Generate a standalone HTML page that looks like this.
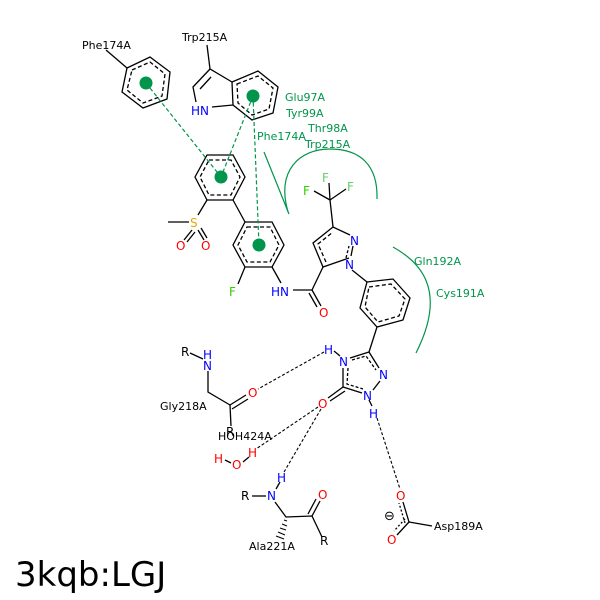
<!DOCTYPE html>
<html><head><meta charset="utf-8"><style>
html,body{margin:0;padding:0;background:#fff;}
svg{display:block;font-family:"DejaVu Sans","Liberation Sans",sans-serif;}
</style></head><body>
<svg width="600" height="600" viewBox="0 0 600 600" xmlns="http://www.w3.org/2000/svg">
<rect width="600" height="600" fill="#fff"/>
<g stroke="#000" stroke-width="1.3" fill="none">
<polygon points="127,68 150,57 170,72 167,99 143,108 122,92"/>
<polygon points="132,70 150,62 165,74 162,96 143,103 127,90" stroke-dasharray="4,2.5"/>
<line x1="106" y1="50" x2="127" y2="68"/>
<line x1="210" y1="69" x2="207" y2="45"/>
<polyline points="232,82 210,69 193,87 196,102"/>
<line x1="211" y1="77" x2="200" y2="89"/>
<line x1="212" y1="107" x2="233" y2="105"/>
<polygon points="232,82 258,71 278,87 273,113 252,120 233,105"/>
<polygon points="237,84 258,76 273,88 269,109 252,115 238,103" stroke-dasharray="4,2.5"/>
<polygon points="207,155 233,155 245,177 233,200 207,200 195,177"/>
<polygon points="209,160 231,160 240,177 231,195 209,195 200,177" stroke-dasharray="4,2.5"/>
<polygon points="245,222 272,222 284,245 272,267 245,267 233,245"/>
<polygon points="247,227 270,227 279,245 270,262 247,262 238,245" stroke-dasharray="4,2.5"/>
<line x1="233" y1="200" x2="245" y2="222"/>
<line x1="207" y1="200" x2="198" y2="215"/>
<line x1="168" y1="222" x2="189" y2="222"/>
<line x1="192" y1="230" x2="184" y2="240"/><line x1="195" y1="232" x2="187" y2="242"/>
<line x1="198" y1="230" x2="204" y2="240"/><line x1="201" y1="228" x2="207" y2="238"/>
<line x1="245" y1="267" x2="238" y2="284"/>
<line x1="272" y1="267" x2="281" y2="283"/>
<line x1="293" y1="290" x2="312" y2="290"/>
<line x1="312" y1="290" x2="321" y2="306"/><line x1="309" y1="293" x2="317" y2="307"/>
<line x1="312" y1="290" x2="323" y2="267"/>
<polyline points="349,258 323,267 313,243 333,227 350,235"/>
<polyline points="326,262 318,244 333,232" stroke-dasharray="4,2.5"/>
<line x1="346" y1="258" x2="349" y2="246" stroke-dasharray="3,2"/>
<line x1="353" y1="246" x2="351" y2="256"/>
<line x1="333" y1="227" x2="330" y2="200"/>
<line x1="330" y1="200" x2="314" y2="191"/>
<line x1="330" y1="200" x2="329" y2="183"/>
<line x1="330" y1="200" x2="346" y2="189"/>
<line x1="352" y1="270" x2="367" y2="282"/>
<polygon points="367,282 393,279 410,298 403,320 377,327 360,308"/>
<polygon points="369,287 391,284 405,299 399,316 378,322 365,307" stroke-dasharray="4,2.5"/>
<line x1="377" y1="327" x2="369" y2="352"/>
<line x1="369" y1="352" x2="350" y2="358"/>
<line x1="369" y1="352" x2="379" y2="368"/>
<line x1="343" y1="368" x2="343" y2="387"/>
<line x1="343" y1="387" x2="362" y2="393"/>
<line x1="380" y1="381" x2="373" y2="390"/>
<polyline points="348,368 347,384 363,389" stroke-dasharray="3,2"/>
<polyline points="352,360 366,356 376,370" stroke-dasharray="3,2"/>
<line x1="343" y1="387" x2="328" y2="398"/><line x1="345" y1="391" x2="330" y2="401"/>
<line x1="369" y1="400" x2="372" y2="406"/>
<line x1="334" y1="351" x2="340" y2="356"/>
<line x1="190" y1="353" x2="203" y2="359"/>
<polyline points="208,371 208,392 230,405"/>
<line x1="230" y1="405" x2="246" y2="395"/><line x1="232" y1="409" x2="248" y2="399"/>
<line x1="230" y1="405" x2="231" y2="426"/>
<line x1="225" y1="460" x2="231" y2="463"/><line x1="243" y1="462" x2="249" y2="457"/>
<line x1="252" y1="496" x2="266" y2="496"/>
<line x1="280" y1="482" x2="276" y2="489"/>
<polyline points="275,502 286,517 312,516 322,537"/>
<line x1="312" y1="516" x2="320" y2="501"/><line x1="308" y1="514" x2="316" y2="499"/>
<line x1="409" y1="522" x2="432" y2="526"/>
<line x1="409" y1="522" x2="403" y2="502"/><line x1="405" y1="523" x2="399" y2="503" stroke-dasharray="2,2"/>
<line x1="409" y1="522" x2="397" y2="535"/><line x1="405" y1="519" x2="394" y2="531" stroke-dasharray="2,2"/>
</g>
<g stroke="#000" stroke-width="1">
<line x1="284" y1="520" x2="287" y2="521"/><line x1="282" y1="524" x2="287" y2="526"/>
<line x1="280" y1="528" x2="286" y2="530"/><line x1="278" y1="532" x2="285" y2="535"/>
<line x1="276" y1="536" x2="284" y2="539"/>
</g>
<g stroke="#00954a" stroke-width="1.2" fill="none">
<line x1="146" y1="83" x2="221" y2="177" stroke-dasharray="4,2.5"/>
<line x1="253" y1="96" x2="221" y2="177" stroke-dasharray="4,2.5"/>
<line x1="253" y1="96" x2="259" y2="245" stroke-dasharray="4,2.5"/>
<line x1="264" y1="152" x2="289" y2="214"/>
<path d="M288,212 C276,170 300,149 330,149 C360,149 378,165 377,199"/>
<path d="M393,247 C420,262 448,290 416,353"/>
</g>
<g fill="#00954a">
<circle cx="146" cy="83" r="6.5"/><circle cx="253" cy="96" r="6.5"/>
<circle cx="221" cy="177" r="6.5"/><circle cx="259" cy="245" r="6.5"/>
</g>
<g stroke="#000" stroke-width="1.1" stroke-dasharray="3,2" fill="none">
<line x1="324" y1="352" x2="258" y2="389"/>
<line x1="318" y1="407" x2="256" y2="449"/>
<line x1="321" y1="409" x2="284" y2="472"/>
<line x1="377" y1="418" x2="400" y2="489"/>
</g>
<g font-size="11" fill="#000">
<text x="82" y="49">Phe174A</text>
<text x="182" y="41">Trp215A</text>
<text x="160" y="410">Gly218A</text>
<text x="218" y="440">HOH424A</text>
<text x="249" y="550">Ala221A</text>
<text x="434" y="530">Asp189A</text>
</g>
<g font-size="11" fill="#00954a">
<text x="285" y="101">Glu97A</text>
<text x="286" y="117">Tyr99A</text>
<text x="308" y="132">Thr98A</text>
<text x="257" y="140">Phe174A</text>
<text x="305" y="148">Trp215A</text>
<text x="414" y="265">Gln192A</text>
<text x="436" y="297">Cys191A</text>
</g>
<g font-size="12">
<text x="191" y="115" fill="#0000ff">HN</text>
<text x="190" y="227" fill="#e6a800">S</text>
<text x="176" y="250" fill="#ff0000">O</text>
<text x="201" y="250" fill="#ff0000">O</text>
<text x="229" y="296" fill="#33cc00">F</text>
<text x="271" y="296" fill="#0000ff">HN</text>
<text x="319" y="317" fill="#ff0000">O</text>
<text x="350" y="245" fill="#0000ff">N</text>
<text x="345" y="269" fill="#0000ff">N</text>
<text x="322" y="182" fill="#66cc66">F</text>
<text x="303" y="195" fill="#33cc00">F</text>
<text x="347" y="191" fill="#66cc66">F</text>
<text x="324" y="354" fill="#0000ff">H</text>
<text x="339" y="366" fill="#0000ff">N</text>
<text x="379" y="379" fill="#0000ff">N</text>
<text x="363" y="400" fill="#0000ff">N</text>
<text x="369" y="418" fill="#0000ff">H</text>
<text x="318" y="408" fill="#ff0000">O</text>
<text x="181" y="356" fill="#000">R</text>
<text x="203" y="359" fill="#0000ff">H</text>
<text x="203" y="370" fill="#0000ff">N</text>
<text x="248" y="397" fill="#ff0000">O</text>
<text x="226" y="436" fill="#000">R</text>
<text x="214" y="463" fill="#ff0000">H</text>
<text x="232" y="469" fill="#ff0000">O</text>
<text x="248" y="457" fill="#ff0000">H</text>
<text x="277" y="482" fill="#0000ff">H</text>
<text x="267" y="500" fill="#0000ff">N</text>
<text x="241" y="500" fill="#000">R</text>
<text x="318" y="499" fill="#ff0000">O</text>
<text x="320" y="545" fill="#000">R</text>
<text x="396" y="500" fill="#ff0000">O</text>
<text x="387" y="544" fill="#ff0000">O</text>
<text x="384" y="520" fill="#000" font-size="13">⊖</text>
</g>
<text x="15" y="586" font-size="34" fill="#000">3kqb:LGJ</text>
</svg>
</body></html>
